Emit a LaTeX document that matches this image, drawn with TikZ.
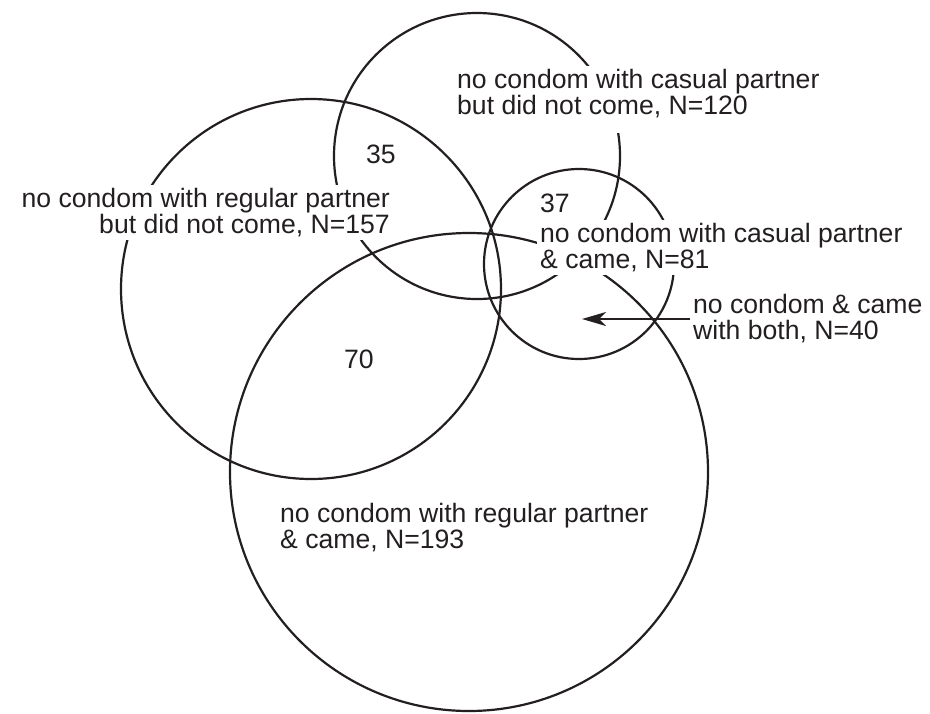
\documentclass[tikz,border=0pt]{standalone}
\usepackage{fontspec}
\setmainfont{Liberation Sans}
\usetikzlibrary{arrows.meta}
\definecolor{ink}{RGB}{35,31,32}
\tikzset{
  setcircle/.style={draw=ink, line width=2.2pt},
  lbl/.style={fill=white, text=ink, inner sep=3pt, font=\fontsize{26.6}{26}\selectfont},
  num/.style={text=ink, inner sep=0pt, font=\fontsize{26.6}{26}\selectfont},
  pointer/.style={draw=ink, line width=2.2pt, -{Stealth[length=24pt,width=14pt,inset=7pt]}}
}
\begin{document}
\begin{tikzpicture}[x=1pt,y=-1pt]
\useasboundingbox (0,0) rectangle (930,713);
% circles
\draw[setcircle] (477,156) circle[radius=143pt];
\draw[setcircle] (311,289) circle[radius=190pt];
\draw[setcircle] (469,472) circle[radius=239pt];
\draw[setcircle] (579,264) circle[radius=95pt];
% labels
\node[lbl, align=left, anchor=north west] (casNC) at (454,66)
  {no condom with casual partner\\but did not come, N=120\rule[-16pt]{0pt}{0pt}};
\node[lbl, align=right, anchor=north east] (regNC) at (393,185)
  {no condom with regular partner\\but did not come, N=157};
\node[lbl, align=left, anchor=north west] (casC) at (537,220)
  {no condom with casual partner\\\& came, N=81};
\node[lbl, align=left, anchor=north west] (both) at (690,291)
  {no condom \& came\\with both, N=40};
\node[lbl, align=left, anchor=north west] (regC) at (277,500)
  {no condom with regular partner\\\& came, N=193};
\node[num, anchor=base] (n35) at (381,163) {35};
\node[num, anchor=base west] (n37) at (540,212) {37};
\node[num, anchor=base] (n70) at (359,368) {70};
% arrow
\coordinate (tip) at (582,319);
\draw[pointer] (both.west |- tip) -- (tip);
\end{tikzpicture}
\end{document}
